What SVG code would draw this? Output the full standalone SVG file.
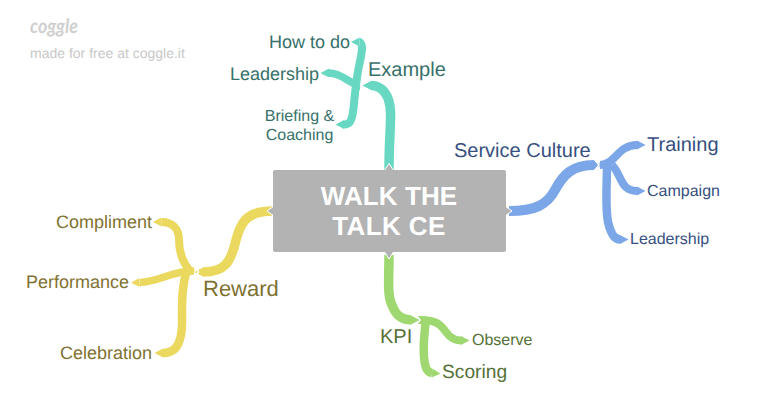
<svg xmlns="http://www.w3.org/2000/svg" width="780" height="419" viewBox="0 0 780 419">
<defs>
<marker id="tip-teal" markerUnits="userSpaceOnUse" viewBox="0 0 10 10" markerWidth="10" markerHeight="10" refX="0" refY="5" orient="auto"><path d="M0,0.500L8.500,5L0,9.500Z" fill="#69d8c2"/></marker>
<marker id="tip-blue" markerUnits="userSpaceOnUse" viewBox="0 0 10 10" markerWidth="10" markerHeight="10" refX="0" refY="5" orient="auto"><path d="M0,0.500L8.500,5L0,9.500Z" fill="#7ba6e8"/></marker>
<marker id="tip-yel" markerUnits="userSpaceOnUse" viewBox="0 0 10 10" markerWidth="10" markerHeight="10" refX="0" refY="5" orient="auto"><path d="M0,0.500L8.500,5L0,9.500Z" fill="#ebd85f"/></marker>
<marker id="tip-grn" markerUnits="userSpaceOnUse" viewBox="0 0 10 10" markerWidth="10" markerHeight="10" refX="0" refY="5" orient="auto"><path d="M0,0.500L8.500,5L0,9.500Z" fill="#9fd870"/></marker>
</defs>
<style>
text{font-family:"Liberation Sans",Arial,sans-serif;text-rendering:geometricPrecision}
path.c{fill:none;stroke-linecap:butt}
.teal{stroke:#69d8c2}.blue{stroke:#7ba6e8}.yel{stroke:#ebd85f}.grn{stroke:#9fd870}
.teal path{marker-end:url(#tip-teal)}.blue path{marker-end:url(#tip-blue)}.yel path{marker-end:url(#tip-yel)}.grn path{marker-end:url(#tip-grn)}
.gap{fill:none;stroke:#fff;stroke-width:1.5}
.tt{fill:#37716a}.tb{fill:#37507f}.ty{fill:#7f7231}.tg{fill:#557136}
</style>
<rect width="780" height="419" fill="#fff"/>
<g id="connectors">
<g class="teal">
<path class="c" stroke-width="9.500" d="M389,170C389,140 391,125 390.500,112C390,95 382,85.500 371,85.500"/>
<path class="c" stroke-width="8" d="M356,90C356,72 362,58 362,48C362,44 360,42 359.500,42"/>
<path class="c" stroke-width="7.500" d="M360,85C350,85 343,73 329,73"/>
<path class="c" stroke-width="8" d="M356,85C354,100 354,108 352.500,115C351,122 349,124.500 344,124.500"/>
</g>
<g class="blue">
<path class="c" stroke-width="10" d="M509,211C535,211 547,205 555,190C563,175 572,165 594,165"/>
<path class="c" stroke-width="8" d="M600,165C615,165 618,145 637,145"/>
<path class="c" stroke-width="8" d="M612,165C622,175 620,191 637,191"/>
<path class="c" stroke-width="8.500" d="M607,165C607,185 605,205 608,222C611,235 615,239.500 620,239.500"/>
</g>
<g class="yel">
<path class="c" stroke-width="9.500" d="M272,211C245,211 240,225 236,240C231,262 225,272 203,272"/>
<path class="c" stroke-width="8" d="M192,273C181,262 179,250 179,240C179,228 172,222 161.500,222"/>
<path class="c" stroke-width="7.500" d="M194,271C170,271 160,282 139.500,282.500"/>
<path class="c" stroke-width="8.500" d="M187,270C182,285 182,300 182,315C183,340 178,353 163,353"/>
</g>
<g class="grn">
<path class="c" stroke-width="9.500" d="M389,255C389,280 387,295 392,305C396,316 402,320 411,320"/>
<path class="c" stroke-width="8" d="M418,320C436,319 441,325 446,332C451,339 456,340.500 461,340.500"/>
<path class="c" stroke-width="8.500" d="M426,320C424,335 423,345 424,357C425,368 427,372.500 432,373"/>
</g>
<!-- white slits where a child fan meets its parent -->
<polyline class="gap" points="364,80 360.500,85 365,90"/>
<polyline class="gap" points="595,160 599,165 595,170"/>
<polyline class="gap" points="195,267 198.500,272 195,277"/>
<polyline class="gap" points="416,315 420,320 416,325"/>
</g>
<g id="center">
<path d="M384,171L389,163.500L394,171ZM505,206L512,211L505,216ZM274,206L267,211L274,216ZM384,251L389,259L394,251Z" fill="#b3b3b3" stroke="#fff" stroke-width="1"/>
<rect x="273" y="170" width="233" height="82" rx="2" fill="#b3b3b3"/>
<text x="389" y="205" text-anchor="middle" font-size="26" font-weight="700" fill="#fff" letter-spacing="0.100">WALK THE</text>
<text x="389" y="235" text-anchor="middle" font-size="26" font-weight="700" fill="#fff" letter-spacing="0.400">TALK CE</text></g>
<g id="n-example"><text class="tt" x="368" y="76" font-size="20">Example</text></g>
<g id="n-howto"><text class="tt" x="269" y="48" font-size="18">How to do</text></g>
<g id="n-leadership-a"><text class="tt" x="230" y="80" font-size="18">Leadership</text></g>
<g id="n-briefing"><text class="tt" x="299.500" y="121" font-size="16" text-anchor="middle">Briefing &amp;</text><text class="tt" x="299.500" y="140" font-size="16" text-anchor="middle">Coaching</text></g>
<g id="n-service"><text class="tb" x="454" y="157" font-size="20">Service Culture</text></g>
<g id="n-training"><text class="tb" x="647" y="151" font-size="20">Training</text></g>
<g id="n-campaign"><text class="tb" x="647" y="196" font-size="16">Campaign</text></g>
<g id="n-leadership-b"><text class="tb" x="630" y="244" font-size="16">Leadership</text></g>
<g id="n-reward"><text class="ty" x="203" y="296" font-size="22">Reward</text></g>
<g id="n-compliment"><text class="ty" x="56" y="228" font-size="18">Compliment</text></g>
<g id="n-performance"><text class="ty" x="26" y="288" font-size="18">Performance</text></g>
<g id="n-celebration"><text class="ty" x="60" y="359" font-size="18">Celebration</text></g>
<g id="n-kpi"><text class="tg" x="380" y="343" font-size="20">KPI</text></g>
<g id="n-observe"><text class="tg" x="472" y="345" font-size="16">Observe</text></g>
<g id="n-scoring"><text class="tg" x="442" y="378" font-size="19.200">Scoring</text></g>
<g id="brand"><text x="30" y="33" font-size="20" font-style="italic" font-weight="700" fill="#cfcfcf" style="font-family:'Lato',sans-serif" textLength="48" lengthAdjust="spacingAndGlyphs">coggle</text>
<text x="30" y="58" font-size="14" fill="#c8c8c8">made for free at coggle.it</text></g>
</svg>
